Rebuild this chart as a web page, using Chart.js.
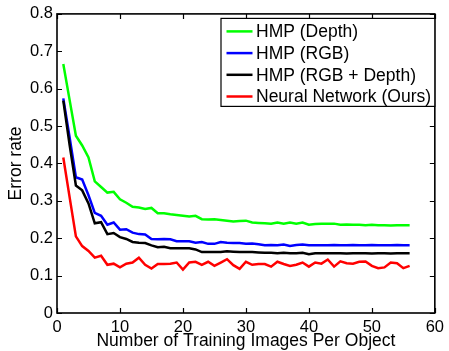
<!DOCTYPE html>
<html>
<head>
<meta charset="utf-8">
<script src="https://cdn.jsdelivr.net/npm/chart.js@4/dist/chart.umd.min.js"></script>
<style>
html,body{margin:0;padding:0;background:#fff;}
canvas{display:block;}
</style>
</head>
<body>
<canvas id="c" width="449" height="351" style="width:449px;height:351px"></canvas>
<script>
const imagesPerObject = [1,2,3,4,5,6,7,8,9,10,11,12,13,14,15,16,17,18,19,20,21,22,23,24,25,26,27,28,29,30,31,32,33,34,35,36,37,38,39,40,41,42,43,44,45,46,47,48,49,50,51,52,53,54,55,56];
const hmpDepth = [0.666,0.570,0.474,0.448,0.416,0.352,0.337,0.322,0.324,0.304,0.295,0.284,0.282,0.278,0.281,0.267,0.267,0.264,0.262,0.260,0.258,0.260,0.251,0.250,0.251,0.249,0.247,0.245,0.246,0.247,0.242,0.241,0.240,0.239,0.242,0.239,0.242,0.239,0.242,0.236,0.238,0.239,0.239,0.239,0.236,0.237,0.236,0.236,0.235,0.236,0.235,0.235,0.234,0.235,0.235,0.235];
const hmpRGB = [0.574,0.470,0.363,0.357,0.315,0.268,0.260,0.236,0.242,0.223,0.224,0.215,0.211,0.210,0.198,0.197,0.198,0.197,0.192,0.192,0.192,0.188,0.190,0.185,0.185,0.190,0.188,0.187,0.187,0.185,0.186,0.184,0.181,0.182,0.181,0.183,0.179,0.182,0.183,0.181,0.181,0.181,0.181,0.182,0.181,0.181,0.182,0.181,0.181,0.182,0.181,0.181,0.181,0.182,0.181,0.181];
const hmpRGBDepth = [0.568,0.450,0.341,0.328,0.293,0.240,0.243,0.211,0.214,0.203,0.198,0.190,0.188,0.187,0.181,0.176,0.177,0.173,0.173,0.173,0.173,0.170,0.163,0.163,0.163,0.163,0.165,0.164,0.163,0.163,0.163,0.162,0.161,0.161,0.160,0.161,0.160,0.160,0.161,0.157,0.160,0.160,0.160,0.160,0.160,0.159,0.160,0.160,0.160,0.159,0.160,0.160,0.159,0.160,0.160,0.160];
const neuralNet = [0.416,0.310,0.205,0.179,0.166,0.148,0.153,0.129,0.132,0.122,0.132,0.135,0.148,0.129,0.119,0.131,0.131,0.132,0.135,0.116,0.135,0.137,0.129,0.137,0.126,0.135,0.144,0.128,0.118,0.137,0.129,0.131,0.131,0.124,0.137,0.131,0.126,0.129,0.135,0.124,0.135,0.132,0.143,0.124,0.138,0.133,0.132,0.137,0.138,0.126,0.120,0.122,0.135,0.133,0.120,0.126];
const seriesLabels = ['HMP (Depth)','HMP (RGB)','HMP (RGB + Depth)','Neural Network (Ours)'];
const seriesColors = ['#00ff00','#0000ff','#000000','#ff0000'];
const xTickLabels = ['0','10','20','30','40','50','60'];
const yTickLabels = ['0','0.1','0.2','0.3','0.4','0.5','0.6','0.7','0.8'];
const xTitle = 'Number of Training Images Per Object';
const yTitle = 'Error rate';

const FONT = "'Liberation Sans', Arial, Helvetica, sans-serif";
const toPts = arr => arr.map((v,i)=>({x:imagesPerObject[i], y:v}));
const seriesValues = [hmpDepth, hmpRGB, hmpRGBDepth, neuralNet];

const datasets = seriesValues.map((vals,i)=>({
  label: seriesLabels[i],
  data: toPts(vals),
  borderColor: seriesColors[i],
  backgroundColor: seriesColors[i],
  borderWidth: 2.5,
  pointRadius: 0,
  tension: 0,
  fill: false,
  order: 4 - i
}));

const framePlugin = {
  id: 'frame',
  afterDatasetsDraw(chart){
    const {ctx, chartArea:a, scales:{x,y}} = chart;
    ctx.save();
    ctx.strokeStyle = '#000';
    ctx.lineWidth = 1.2;
    ctx.beginPath();
    const tl = 5;
    x.ticks.forEach(t=>{
      const px = Math.round(x.getPixelForValue(t.value))+0.5;
      ctx.moveTo(px, a.bottom); ctx.lineTo(px, a.bottom - tl);
      ctx.moveTo(px, a.top); ctx.lineTo(px, a.top + tl);
    });
    y.ticks.forEach(t=>{
      const py = Math.round(y.getPixelForValue(t.value))+0.5;
      ctx.moveTo(a.left, py); ctx.lineTo(a.left + tl, py);
      ctx.moveTo(a.right, py); ctx.lineTo(a.right - tl, py);
    });
    ctx.stroke();
    ctx.lineWidth = 1.6;
    ctx.strokeRect(a.left, a.top, a.right - a.left, a.bottom - a.top);
    ctx.restore();
  }
};

const legendPlugin = {
  id: 'boxLegend',
  afterDraw(chart){
    const {ctx, chartArea:a} = chart;
    const ds = chart.data.datasets;
    const boxR = a.right, boxT = a.top + 4.5, boxL = 221, rowH = 21.7;
    const boxB = boxT + 88;
    ctx.save();
    ctx.fillStyle = '#fff';
    ctx.fillRect(boxL, boxT, boxR - boxL, boxB - boxT);
    ctx.strokeStyle = '#000';
    ctx.lineWidth = 1.2;
    ctx.strokeRect(boxL, boxT, boxR - boxL, boxB - boxT);
    ctx.font = '17.5px ' + FONT;
    ctx.textBaseline = 'middle';
    ctx.textAlign = 'left';
    ds.forEach((d,i)=>{
      const cy = boxT + 13 + i*rowH;
      ctx.strokeStyle = d.borderColor;
      ctx.lineWidth = 2.5;
      ctx.beginPath();
      ctx.moveTo(boxL + 5.5, cy); ctx.lineTo(boxL + 31.5, cy);
      ctx.stroke();
      ctx.fillStyle = '#000';
      ctx.fillText(d.label, boxL + 35, cy + 1);
    });
    ctx.restore();
  }
};

new Chart(document.getElementById('c'), {
  type: 'line',
  data: { datasets },
  options: {
    responsive: false,
    animation: false,
    layout: { padding: { top: 10.5, right: 9, left: 0, bottom: 0 } },
    plugins: { legend: { display: false }, tooltip: { enabled: false } },
    scales: {
      x: {
        type: 'linear', min: 0, max: 60,
        grid: { display: false, drawTicks: false },
        border: { display: false },
        ticks: { stepSize: 10, padding: 5, color: '#000', maxRotation: 0,
                 font: { family: FONT, size: 16.5 },
                 callback: (v, i) => xTickLabels[i] },
        title: { display: true, text: xTitle, color: '#000',
                 font: { family: FONT, size: 17.5 }, padding: { top: 0, bottom: -1 } },
        afterFit: s => { s.height = 38; }
      },
      y: {
        type: 'linear', min: 0, max: 0.8,
        grid: { display: false, drawTicks: false },
        border: { display: false },
        ticks: { stepSize: 0.1, padding: 4, color: '#000',
                 font: { family: FONT, size: 16.5 },
                 callback: (v, i) => yTickLabels[i] },
        title: { display: true, text: yTitle, color: '#000',
                 font: { family: FONT, size: 17.5 }, padding: { top: 6, bottom: 0 } },
        afterFit: s => { s.width = 57; }
      }
    }
  },
  plugins: [framePlugin, legendPlugin]
});
</script>
</body>
</html>
